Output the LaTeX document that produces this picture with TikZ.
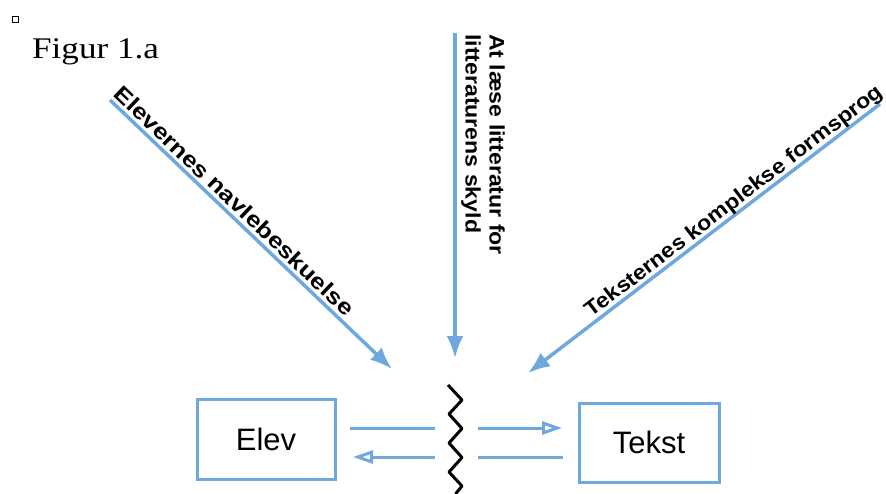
\documentclass[tikz,border=0pt]{standalone}
\usepackage{fontspec}
\setmainfont{Liberation Serif}
\newfontfamily\arial{Liberation Sans}
\newfontfamily\figfont{Liberation Serif}[FakeStretch=1.17]
\newfontfamily\labA{Liberation Sans Bold}[FakeStretch=1.1]
\newfontfamily\labB{Liberation Sans Bold}[FakeStretch=1.18]
\usetikzlibrary{arrows.meta}
\definecolor{lblue}{RGB}{111,168,220}
\begin{document}
\begin{tikzpicture}[x=1pt,y=-1pt,
  box/.style={draw=lblue, line width=3pt, minimum width=138pt, minimum height=80pt, inner sep=0pt, font=\arial\fontsize{31}{36}\selectfont},
  feed/.style={draw=lblue, line width=3.5pt, -{Latex[length=22pt,width=17pt]}},
  flow/.style={draw=lblue, line width=3pt},
  flowarr/.style={flow, -{Triangle[open,length=20pt,width=13pt]}},
  lab/.style={font=\labA\fontsize{21}{24}\selectfont, inner sep=0pt},
  labL/.style={font=\labB\fontsize{22}{24}\selectfont, inner sep=0pt},
  zig/.style={draw=black, line width=3pt, line join=round}]
\useasboundingbox (0,0) rectangle (886,493);
\clip (0,0) rectangle (886,493);

% caption
\node[draw, line width=0.8pt, minimum size=6pt, inner sep=0pt] (sq) at (15,19.5) {};
\node[anchor=base west, inner sep=0pt, font=\figfont\fontsize{30}{36}\selectfont] (fig) at (32,58) {Figur 1.a};

% boxes
\node[box] (elev) at (266,439) {Elev};
\node[box, minimum width=140pt, minimum height=79pt] (tekst) at (649,442.5) {Tekst};

% feed arrows
\coordinate (s1) at (110,100);
\coordinate (e1) at (392,369);
\coordinate (s2) at (455,33);
\coordinate (e2) at (455,358);
\coordinate (s3) at (880,104);
\coordinate (e3) at (528,373);
\draw[feed] (s1) -- (e1);
\draw[feed] (s2) -- (e2);
\draw[feed] (s3) -- (e3);

% labels
\node[labL, rotate=-43.6, anchor=base] (l1) at (229,206.4) {Elevernes navlebeskuelse};
\node[lab, rotate=-90, anchor=west, align=left] (l2) at (483,34) {At læse litteratur for\\litteraturens skyld};
\node[lab, rotate=37.4, anchor=base] (l3) at (738,206.2) {Teksternes komplekse formsprog};

% horizontal flows
\coordinate (a1) at (350,428);
\coordinate (a2) at (435,428);
\coordinate (a3) at (478,428);
\coordinate (a4) at (562,428);
\coordinate (b1) at (353,457);
\coordinate (b2) at (435,457);
\coordinate (b3) at (478,457);
\coordinate (b4) at (563,457);
\draw[flow] (a1) -- (a2);
\draw[flowarr] (a3) -- (a4);
\draw[flowarr] (b2) -- (b1);
\draw[flow] (b3) -- (b4);

% zigzag divider
\draw[zig] (448,385) -- (462,400) -- (449,414) -- (462,428.5) -- (449,443) -- (462,457.5) -- (449,472) -- (462,486) -- (455.5,494);
\end{tikzpicture}
\end{document}
